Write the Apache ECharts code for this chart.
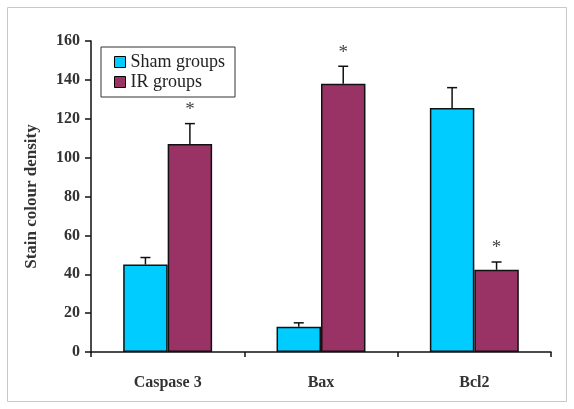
<!DOCTYPE html>
<html><head><meta charset="utf-8">
<script src="https://cdn.jsdelivr.net/npm/echarts@6/dist/echarts.min.js"></script>
<style>html,body{margin:0;padding:0;background:#fff}#c{width:574px;height:409px}</style>
</head><body><div id="c"></div>
<script>
const categories = ['Caspase 3', 'Bax', 'Bcl2'];
const shamValues = [45, 13, 125.5];
const shamErrors = [3.6, 2, 10.5];
const irValues = [107, 138, 42.3];
const irErrors = [10.5, 9, 4];
const irSignificant = ['*', '*', '*'];
const yTicks = [0, 20, 40, 60, 80, 100, 120, 140, 160];

const chart = echarts.init(document.getElementById('c'));
const font = 'Liberation Serif';
const gapFrac = 0.42;

function errRender(side, vals, errs, stars) {
  return function (params, api) {
    const i = api.value(0);
    const v = vals[i], e = errs[i];
    const band = api.size([1, 0])[0];
    const bw = band * (1 - gapFrac) / 2;
    const c = api.coord([i, v]);
    const x = c[0] + side * bw / 2;
    const top = api.coord([i, v + e])[1];
    const children = [
      {type: 'line', shape: {x1: x, y1: c[1], x2: x, y2: top}, style: {stroke: '#111', lineWidth: 1.5}},
      {type: 'line', shape: {x1: x - 5, y1: top, x2: x + 5, y2: top}, style: {stroke: '#111', lineWidth: 1.5}}
    ];
    if (stars && stars[i]) {
      children.push({type: 'text', style: {text: stars[i], x: x, y: top - 4, align: 'center', verticalAlign: 'bottom', font: '19px "Liberation Serif"', fill: '#444'}});
    }
    return {type: 'group', children: children};
  };
}

chart.setOption({
  animation: false,
  backgroundColor: '#fff',
  graphic: [{type: 'rect', shape: {x: 7.5, y: 7.5, width: 559, height: 394}, style: {fill: 'none', stroke: '#c8c8c8', lineWidth: 1}, z: -1}],
  grid: {left: 91, right: 23, top: 41, bottom: 57},
  legend: {
    orient: 'vertical', left: 101, top: 47,
    data: ['Sham groups', 'IR groups'],
    borderColor: '#333', borderWidth: 1, padding: [6, 10, 6, 13],
    itemWidth: 11, itemHeight: 11, itemGap: 2,
    icon: 'rect',
    itemStyle: {borderColor: '#000', borderWidth: 1},
    textStyle: {fontFamily: font, fontSize: 18, color: '#222'}
  },
  xAxis: {
    type: 'category', data: categories,
    axisLine: {lineStyle: {color: '#111', width: 1.5}},
    axisTick: {show: true, length: 5, lineStyle: {color: '#111', width: 1.5}},
    axisLabel: {fontFamily: font, fontSize: 16, fontWeight: 'bold', color: '#333', margin: 23}
  },
  yAxis: {
    type: 'value', min: 0, max: 160, interval: 20,
    name: 'Stain colour density', nameLocation: 'middle', nameGap: 51,
    nameTextStyle: {fontFamily: font, fontSize: 17, fontWeight: 'bold', color: '#333'},
    axisLine: {show: true, lineStyle: {color: '#111', width: 1.5}},
    axisTick: {show: true, length: 6, inside: false, lineStyle: {color: '#111', width: 1.5}},
    axisLabel: {fontFamily: font, fontSize: 16, fontWeight: 'bold', color: '#333', margin: 11,
      formatter: v => yTicks.includes(v) ? String(v) : ''},
    splitLine: {show: false}
  },
  series: [
    {name: 'Sham groups', type: 'bar', data: shamValues, barGap: '0%', barCategoryGap: (gapFrac * 100) + '%',
     itemStyle: {color: '#00CCFF', borderColor: '#111', borderWidth: 1.5}},
    {name: 'IR groups', type: 'bar', data: irValues,
     itemStyle: {color: '#993366', borderColor: '#111', borderWidth: 1.5}},
    {type: 'custom', data: [0, 1, 2], renderItem: errRender(-1, shamValues, shamErrors, null), z: 5},
    {type: 'custom', data: [0, 1, 2], renderItem: errRender(1, irValues, irErrors, irSignificant), z: 5}
  ]
});
</script></body></html>
